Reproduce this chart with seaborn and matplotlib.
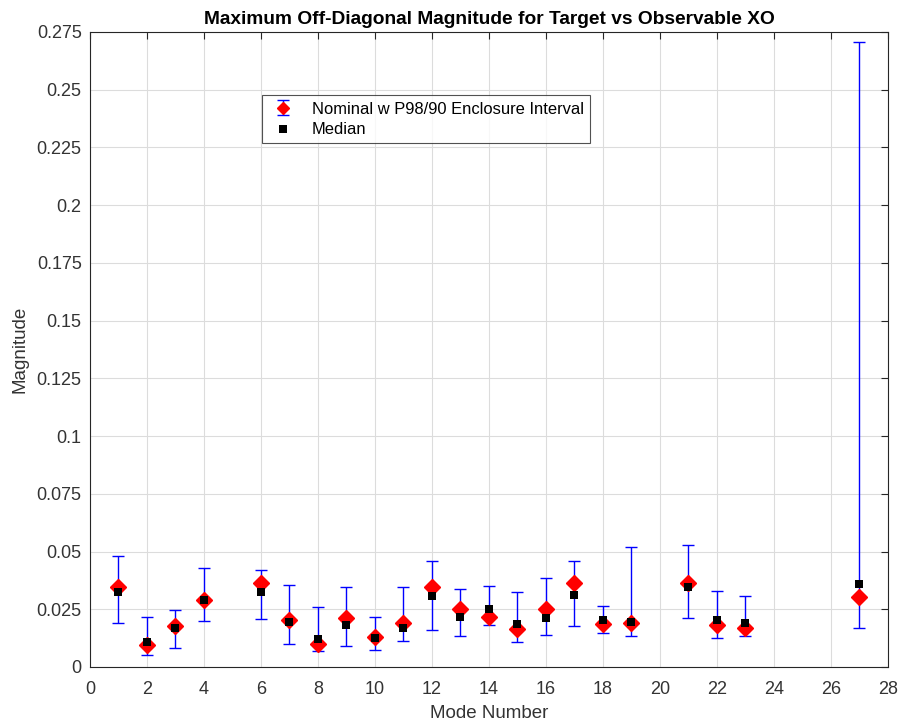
import matplotlib
matplotlib.use("Agg")
import matplotlib.pyplot as plt
from matplotlib.lines import Line2D
from matplotlib.container import ErrorbarContainer
from matplotlib.legend_handler import HandlerErrorbar
import seaborn as sns
import numpy as np
import pandas as pd

modes = [1, 2, 3, 4, 6, 7, 8, 9, 10, 11, 12, 13, 14, 15, 16, 17, 18, 19, 21, 22, 23, 27]
nominal = [0.0346, 0.0096, 0.0176, 0.0288, 0.0365, 0.0202, 0.0100, 0.0212, 0.0129, 0.0192,
           0.0346, 0.0249, 0.0217, 0.0166, 0.0249, 0.0363, 0.0186, 0.0190, 0.0365, 0.0183,
           0.0169, 0.0305]
median = [0.0324, 0.0110, 0.0170, 0.0292, 0.0326, 0.0195, 0.0121, 0.0183, 0.0125, 0.0169,
          0.0307, 0.0218, 0.0253, 0.0186, 0.0212, 0.0311, 0.0202, 0.0193, 0.0346, 0.0205,
          0.0190, 0.0360]
lower = [0.0192, 0.0054, 0.0081, 0.0200, 0.0206, 0.0099, 0.0068, 0.0090, 0.0073, 0.0112,
         0.0161, 0.0134, 0.0182, 0.0108, 0.0138, 0.0177, 0.0147, 0.0134, 0.0214, 0.0126,
         0.0134, 0.0170]
upper = [0.0481, 0.0218, 0.0246, 0.0430, 0.0422, 0.0356, 0.0259, 0.0347, 0.0218, 0.0347,
         0.0458, 0.0337, 0.0352, 0.0326, 0.0387, 0.0458, 0.0262, 0.0519, 0.0529, 0.0330,
         0.0307, 0.2705]

xticks = list(range(0, 29, 2))
yticks = [0, 0.025, 0.05, 0.075, 0.1, 0.125, 0.15, 0.175, 0.2, 0.225, 0.25, 0.275]
ytick_labels = ["0", "0.025", "0.05", "0.075", "0.1", "0.125", "0.15", "0.175", "0.2",
                "0.225", "0.25", "0.275"]

sns.set_style("white")
plt.rcParams['font.family'] = ['Liberation Sans', 'DejaVu Sans']

TXT = '#333333'

df = pd.DataFrame({"mode": modes, "nominal": nominal, "median": median,
                   "lower": lower, "upper": upper})

fig = plt.figure(figsize=(8.98, 7.26), dpi=100)
ax = fig.add_axes([0.1002, 0.0813, 0.8886, 0.8747])

yerr = np.vstack([df["nominal"] - df["lower"], df["upper"] - df["nominal"]])
eb = ax.errorbar(df["mode"], df["nominal"], yerr=yerr, fmt='D', color='#ff0000',
                 markersize=8, ecolor='#0000ff', elinewidth=1.0, capsize=4,
                 capthick=1.0, label='Nominal w P98/90 Enclosure Interval', zorder=3)
sns.scatterplot(data=df, x="mode", y="median", marker='s', color='black', s=40,
                edgecolor='black', linewidth=0, ax=ax, zorder=4, label='Median')

ax.set_xlim(0, 28)
ax.set_ylim(0, 0.275)
ax.set_xticks(xticks)
ax.set_yticks(yticks)
ax.set_yticklabels(ytick_labels)
ax.grid(True, color='#dcdcdc', linewidth=0.8)
ax.set_axisbelow(True)
for s in ax.spines.values():
    s.set_color('#262626')
    s.set_linewidth(0.8)
ax.tick_params(direction='in', top=True, right=True, length=5, width=0.8,
               labelsize=13, colors='#262626', labelcolor=TXT)
ax.tick_params(axis='x', pad=10)
ax.tick_params(axis='y', pad=6)
ax.set_xlabel("Mode Number", fontsize=13.5, color=TXT, labelpad=5)
ax.set_ylabel("Magnitude", fontsize=13.5, color=TXT, labelpad=6)
ax.set_title("Maximum Off-Diagonal Magnitude for Target vs Observable XO",
             fontsize=13.8, fontweight='bold', pad=6, color='black')

handles, labels = ax.get_legend_handles_labels()
order = [labels.index('Nominal w P98/90 Enclosure Interval'), labels.index('Median')]
leg = ax.legend([handles[i] for i in order], [labels[i] for i in order],
                loc='upper left', bbox_to_anchor=(0.2155, 0.9008), frameon=True,
                fancybox=False, edgecolor='#262626', fontsize=11.9,
                borderpad=0.4, labelspacing=0.3, handlelength=1.7, handletextpad=0.9,
                borderaxespad=0,
                handler_map={ErrorbarContainer: HandlerErrorbar(xerr_size=0.3, yerr_size=0.45)})
leg.get_frame().set_linewidth(0.8)
for ln in leg.findobj(Line2D):
    if ln.get_marker() == 'D':
        ln.set_markersize(6)
for t in leg.get_texts():
    t.set_color('black')

fig.savefig("out.png", dpi=100)
